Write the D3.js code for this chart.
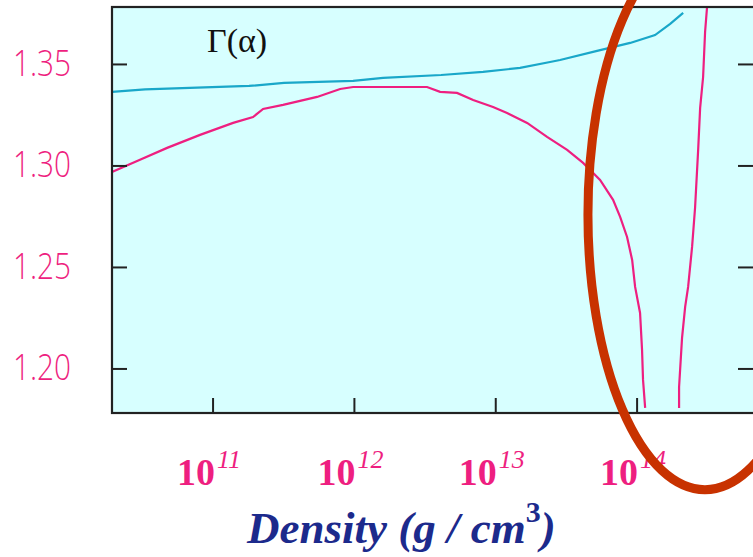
<!DOCTYPE html>
<html>
<head>
<meta charset="utf-8">
<script src="https://cdn.jsdelivr.net/npm/d3@7"></script>
<style>
  html, body { margin: 0; padding: 0; background: #fff; overflow: hidden; }
  svg { display: block; }
</style>
</head>
<body>
<div id="chart"></div>
<script>
// tick values
var xTickExp = [11, 12, 13, 14];
var yTicks = [1.20, 1.25, 1.30, 1.35];

// cyan curve (log10 density, gamma)
var cyanLogRho = [10.285, 10.519, 11.255, 11.502, 11.991, 12.203, 12.613, 12.910, 13.172, 13.384, 13.455, 13.717, 13.951, 14.127, 14.234, 14.326];
var cyanGamma  = [1.3365, 1.3377, 1.3394, 1.3409, 1.3419, 1.3434, 1.3448, 1.3463, 1.3483, 1.3512, 1.3522, 1.3567, 1.3606, 1.3645, 1.3700, 1.3754];

// magenta curve, branch below the pole
var pinkLogRho = [10.285, 10.483, 10.675, 10.908, 11.142, 11.283, 11.354, 11.495, 11.736, 11.899, 11.991, 12.514, 12.606, 12.726, 12.840, 12.981, 13.080, 13.222, 13.363, 13.505, 13.618, 13.738, 13.830, 13.880, 13.929, 13.965, 13.986, 14.021, 14.035, 14.042, 14.057];
var pinkGamma  = [1.2970, 1.3030, 1.3089, 1.3153, 1.3212, 1.3241, 1.3281, 1.3301, 1.3340, 1.3379, 1.3389, 1.3389, 1.3365, 1.3360, 1.3325, 1.3290, 1.3261, 1.3212, 1.3143, 1.3079, 1.3015, 1.2931, 1.2833, 1.2749, 1.2650, 1.2537, 1.2404, 1.2276, 1.2094, 1.1946, 1.1808];

// magenta curve, branch above the pole
var pink2LogRho = [14.297, 14.297, 14.318, 14.340, 14.361, 14.389, 14.410, 14.432, 14.446, 14.467, 14.481, 14.495];
var pink2Gamma  = [1.1808, 1.1911, 1.2153, 1.2306, 1.2404, 1.2601, 1.2793, 1.3079, 1.3286, 1.3438, 1.3660, 1.3783];

var W = 753, H = 557;
var margin = {top: 7, left: 112, right: 0, bottom: 144};

var pink = '#ee1f80', cyan = '#19a7c9';

var svg = d3.select('#chart').append('svg')
  .attr('width', W)
  .attr('height', H);

var xScale = d3.scaleLog()
  .domain([Math.pow(10, 10.285), Math.pow(10, 14.82)])
  .range([margin.left, W - margin.right]);

var yScale = d3.scaleLinear()
  .domain([1.1783, 1.3783])
  .range([H - margin.bottom, margin.top]);

var x0 = xScale.range()[0], x1 = xScale.range()[1];
var y0 = yScale.range()[1], y1 = yScale.range()[0];

// plot background
svg.append('rect')
  .attr('x', x0).attr('y', y0)
  .attr('width', x1 - x0 + 3).attr('height', y1 - y0)
  .attr('fill', '#d7ffff');

svg.append('clipPath').attr('id', 'plotclip')
  .append('rect')
  .attr('x', x0).attr('y', y0)
  .attr('width', x1 - x0).attr('height', y1 - y0);

function toPoints(lr, g) {
  return lr.map(function(v, i) { return [Math.pow(10, v), g[i]]; });
}

var line = d3.line()
  .x(function(d) { return xScale(d[0]); })
  .y(function(d) { return yScale(d[1]); });

var plot = svg.append('g').attr('clip-path', 'url(#plotclip)');

plot.append('path')
  .datum(toPoints(cyanLogRho, cyanGamma))
  .attr('d', line)
  .attr('fill', 'none')
  .attr('stroke', cyan)
  .attr('stroke-width', 2.2);

plot.append('path')
  .datum(toPoints(pinkLogRho, pinkGamma))
  .attr('d', line)
  .attr('fill', 'none')
  .attr('stroke', pink)
  .attr('stroke-width', 2.2);

plot.append('path')
  .datum(toPoints(pink2LogRho, pink2Gamma))
  .attr('d', line)
  .attr('fill', 'none')
  .attr('stroke', pink)
  .attr('stroke-width', 2.2);

// ticks (inward, 15px)
var ticks = svg.append('g').attr('stroke', '#222').attr('stroke-width', 2);
yTicks.forEach(function(t) {
  ticks.append('line')
    .attr('x1', x0).attr('x2', x0 + 15)
    .attr('y1', yScale(t)).attr('y2', yScale(t));
  ticks.append('line')
    .attr('x1', x1 - 15).attr('x2', x1)
    .attr('y1', yScale(t)).attr('y2', yScale(t));
});
xTickExp.forEach(function(e) {
  var xx = xScale(Math.pow(10, e));
  ticks.append('line')
    .attr('x1', xx).attr('x2', xx)
    .attr('y1', y1).attr('y2', y1 - 15);
});

// frame
svg.append('rect')
  .attr('x', x0).attr('y', y0)
  .attr('width', x1 - x0 + 3).attr('height', y1 - y0)
  .attr('fill', 'none')
  .attr('stroke', '#222')
  .attr('stroke-width', 2.2);

// y tick labels
svg.selectAll('.ylab')
  .data(yTicks)
  .enter()
  .append('text')
  .attr('class', 'ylab')
  .attr('x', 13)
  .attr('y', function(d) { return yScale(d) + 11.5; })
  .attr('textLength', 58)
  .attr('lengthAdjust', 'spacingAndGlyphs')
  .style('font-family', '"Open Sans", "Liberation Sans", sans-serif')
  .style('font-weight', 300)
  .style('font-size', '36px')
  .attr('fill', pink)
  .text(function(d) { return d.toFixed(2); });

// x tick labels 10^n
var xl = svg.selectAll('.xlab')
  .data(xTickExp)
  .enter()
  .append('text')
  .attr('class', 'xlab')
  .attr('x', function(d) { return xScale(Math.pow(10, d)) - 4; })
  .attr('y', 485)
  .attr('text-anchor', 'middle')
  .style('font-family', '"Liberation Serif", "DejaVu Serif", serif')
  .attr('fill', pink);
xl.append('tspan')
  .style('font-size', '38px')
  .style('font-weight', 'bold')
  .text('10');
xl.append('tspan')
  .attr('dy', -17)
  .attr('dx', 2)
  .style('font-size', '26px')
  .style('font-style', 'italic')
  .text(function(d) { return d; });

// curve label
svg.append('text')
  .attr('x', 207)
  .attr('y', 52)
  .style('font-family', '"Liberation Serif", serif')
  .style('font-size', '34px')
  .attr('fill', '#111')
  .text('\u0393(\u03b1)');

// axis title
var title = svg.append('text')
  .attr('x', 247)
  .attr('y', 543)
  .style('font-family', '"Liberation Serif", serif')
  .style('font-weight', 'bold')
  .style('font-style', 'italic')
  .style('font-size', '45px')
  .attr('fill', '#1c2a8c');
title.append('tspan').text('Density (g / cm');
title.append('tspan').attr('dy', -21).style('font-size', '30px').style('font-style', 'normal').text('3');
title.append('tspan').attr('dy', 21).text(')');

// red ellipse annotation
svg.append('ellipse')
  .attr('cx', xScale(Math.pow(10, 14.48)))
  .attr('cy', yScale(1.276))
  .attr('rx', 117)
  .attr('ry', 275)
  .attr('fill', 'none')
  .attr('stroke', '#c83200')
  .attr('stroke-width', 9);
</script>
</body>
</html>
